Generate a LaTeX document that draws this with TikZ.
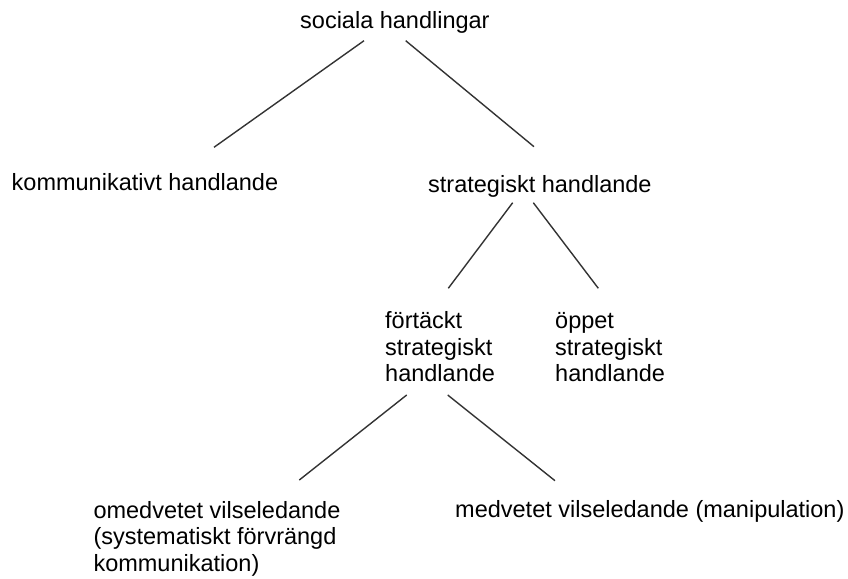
\documentclass[tikz,border=0pt]{standalone}
\usepackage{fontspec}
\setmainfont{Liberation Sans}
\begin{document}
\begin{tikzpicture}[x=1pt,y=-1pt,
  lbl/.style={inner sep=0pt, anchor=base west, align=left, font=\fontsize{23.5}{26.7}\selectfont, text=black},
  conn/.style={line width=1.4pt, draw=black!80}]
\useasboundingbox (0,0) rectangle (848,578);
\node[lbl] (soc) at (300,29) {sociala handlingar};
\node[lbl] (kom) at (11.5,190.7) {kommunikativt handlande};
\node[lbl] (str) at (428,192.7) {strategiskt handlande};
% multi-line nodes: base anchor is the last line's baseline
\node[lbl] (for) at (385,381.7) {förtäckt\\strategiskt\\handlande};
\node[lbl] (opp) at (555,381.7) {öppet\\strategiskt\\handlande};
\node[lbl] (ome) at (93.3,571.5) {omedvetet vilseledande\\(systematiskt förvrängd\\kommunikation)};
\node[lbl] (med) at (455,517.3) {medvetet vilseledande (manipulation)};
\coordinate (s1) at (364,40.7);
\coordinate (s2) at (405.7,40.7);
\coordinate (k1) at (214,147.3);
\coordinate (t1) at (534,146.7);
\coordinate (t2) at (512.7,202.7);
\coordinate (t3) at (533.3,202.7);
\coordinate (f1) at (448.3,288.3);
\coordinate (o1) at (598.3,288.3);
\coordinate (f2) at (406.7,395);
\coordinate (f3) at (447.7,395);
\coordinate (m1) at (299.3,480);
\coordinate (m2) at (555,480.7);
\draw[conn] (s1) -- (k1);
\draw[conn] (s2) -- (t1);
\draw[conn] (t2) -- (f1);
\draw[conn] (t3) -- (o1);
\draw[conn] (f2) -- (m1);
\draw[conn] (f3) -- (m2);
\end{tikzpicture}
\end{document}
